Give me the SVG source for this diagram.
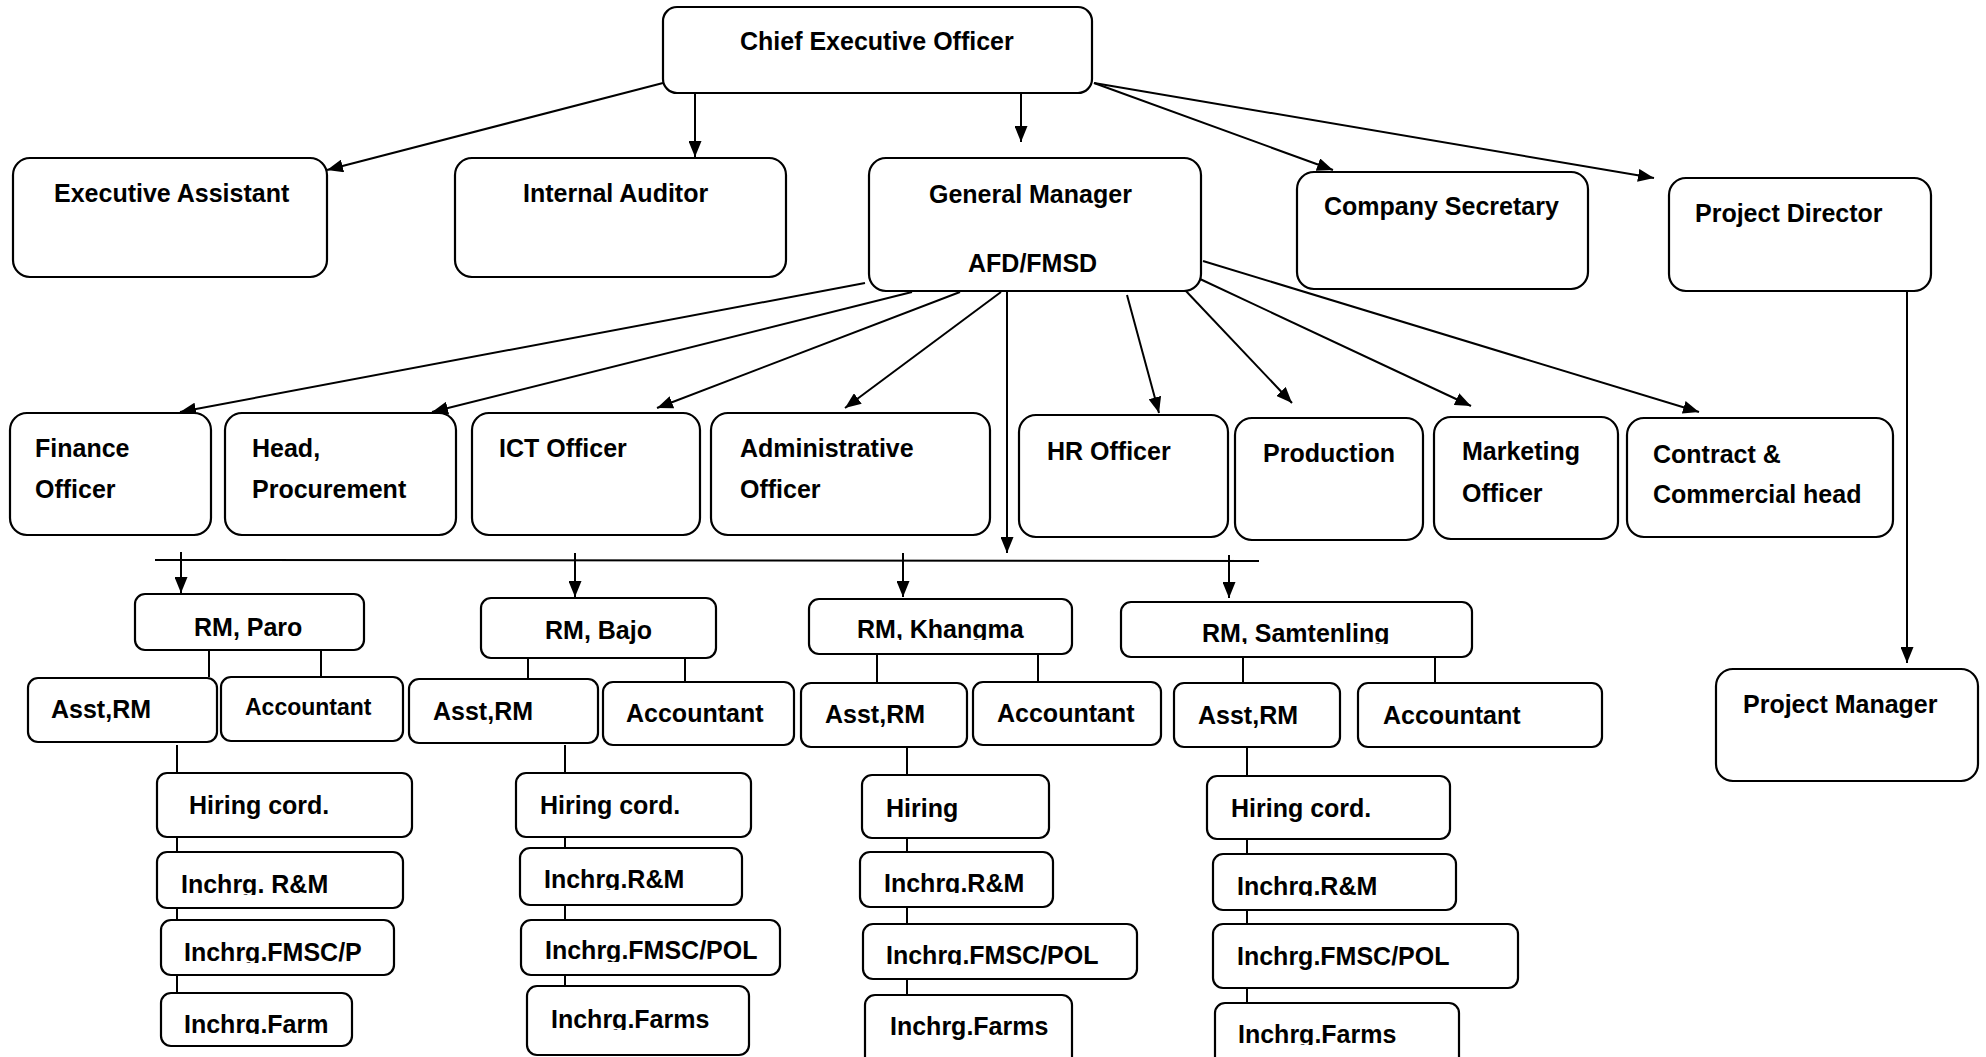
<svg xmlns="http://www.w3.org/2000/svg" width="1986" height="1057" viewBox="0 0 1986 1057">
<style>
.box{fill:#fff;stroke:#000;stroke-width:2.2}
.t{font-family:"Liberation Sans",Arial,sans-serif;font-weight:bold;font-size:25px;fill:#000}
.s{font-size:23px}
.ln{stroke:#000;stroke-width:2;fill:none}
.ar{stroke:#000;stroke-width:2;fill:none;marker-end:url(#ah)}
</style>
<defs>
<marker id="ah" markerUnits="userSpaceOnUse" markerWidth="16" markerHeight="13" refX="16" refY="6.5" orient="auto"><path d="M0,0 L16,6.5 L0,13 z" fill="#000"/></marker>
<clipPath id="c1"><rect x="0" y="0" width="1986" height="895"/></clipPath>
<clipPath id="c2"><rect x="0" y="0" width="1986" height="963"/></clipPath>
<clipPath id="c3"><rect x="0" y="0" width="1986" height="1034"/></clipPath>
<clipPath id="c4"><rect x="0" y="0" width="1986" height="890"/></clipPath>
<clipPath id="c5"><rect x="0" y="0" width="1986" height="962"/></clipPath>
<clipPath id="c6"><rect x="0" y="0" width="1986" height="1030"/></clipPath>
<clipPath id="c7"><rect x="0" y="0" width="1986" height="640"/></clipPath>
<clipPath id="c8"><rect x="0" y="0" width="1986" height="893"/></clipPath>
<clipPath id="c9"><rect x="0" y="0" width="1986" height="965"/></clipPath>
<clipPath id="c10"><rect x="0" y="0" width="1986" height="644"/></clipPath>
<clipPath id="c11"><rect x="0" y="0" width="1986" height="896"/></clipPath>
<clipPath id="c12"><rect x="0" y="0" width="1986" height="1045"/></clipPath>
</defs>
<rect width="1986" height="1057" fill="#fff"/>
<g id="connectors">
<line class="ar" x1="663" y1="83" x2="327" y2="170"/>
<line class="ar" x1="695" y1="93" x2="695" y2="157"/>
<line class="ar" x1="1021" y1="93" x2="1021" y2="142"/>
<line class="ar" x1="1094" y1="83" x2="1333" y2="170"/>
<line class="ar" x1="1094" y1="83" x2="1654" y2="178"/>
<line class="ar" x1="865" y1="283" x2="180" y2="412"/>
<line class="ar" x1="912" y1="292" x2="432" y2="412"/>
<line class="ar" x1="960" y1="292" x2="657" y2="408"/>
<line class="ar" x1="1001" y1="292" x2="845" y2="408"/>
<line class="ar" x1="1007" y1="292" x2="1007" y2="553"/>
<line class="ar" x1="1127" y1="295" x2="1159" y2="413"/>
<line class="ar" x1="1185" y1="290" x2="1292" y2="403"/>
<line class="ar" x1="1200" y1="279" x2="1471" y2="406"/>
<line class="ar" x1="1203" y1="261" x2="1699" y2="412"/>
<line class="ar" x1="1907" y1="291" x2="1907" y2="663"/>
<line class="ln" x1="155" y1="560" x2="1259" y2="561"/>
<line class="ar" x1="181" y1="552" x2="181" y2="593"/>
<line class="ar" x1="575" y1="553" x2="575" y2="597"/>
<line class="ar" x1="903" y1="553" x2="903" y2="597"/>
<line class="ar" x1="1229" y1="555" x2="1229" y2="598"/>
<path class="ln" d="M209,650V677M321,650V677M177,745V773M177,837V852M177,908V920M177,975V993"/>
<path class="ln" d="M528,658V679M685,658V682M565,745V773M565,837V848M565,905V920M565,975V986"/>
<path class="ln" d="M877,654V683M1038,654V682M907,747V775M907,838V852M907,907V924M907,979V995"/>
<path class="ln" d="M1243,657V683M1435,657V683M1247,747V776M1247,839V854M1247,910V924M1247,988V1003"/>
</g>
<g id="ceo"><rect class="box" x="663" y="7" width="429" height="86" rx="14"/><text class="t" x="740" y="50">Chief Executive Officer</text></g>
<g id="exec-assistant"><rect class="box" x="13" y="158" width="314" height="119" rx="17"/><text class="t" x="54" y="202">Executive Assistant</text></g>
<g id="internal-auditor"><rect class="box" x="455" y="158" width="331" height="119" rx="17"/><text class="t" x="523" y="202">Internal Auditor</text></g>
<g id="general-manager"><rect class="box" x="869" y="158" width="332" height="133" rx="17"/><text class="t" x="929" y="203">General Manager</text><text class="t" x="968" y="272">AFD/FMSD</text></g>
<g id="company-secretary"><rect class="box" x="1297" y="172" width="291" height="117" rx="17"/><text class="t" x="1324" y="215">Company Secretary</text></g>
<g id="project-director"><rect class="box" x="1669" y="178" width="262" height="113" rx="17"/><text class="t" x="1695" y="222">Project Director</text></g>
<g id="finance"><rect class="box" x="10" y="413" width="201" height="122" rx="17"/><text class="t" x="35" y="457">Finance</text><text class="t" x="35" y="498">Officer</text></g>
<g id="procurement"><rect class="box" x="225" y="413" width="231" height="122" rx="17"/><text class="t" x="252" y="457">Head,</text><text class="t" x="252" y="498">Procurement</text></g>
<g id="ict"><rect class="box" x="472" y="413" width="228" height="122" rx="17"/><text class="t" x="499" y="457">ICT Officer</text></g>
<g id="admin"><rect class="box" x="711" y="413" width="279" height="122" rx="17"/><text class="t" x="740" y="457">Administrative</text><text class="t" x="740" y="498">Officer</text></g>
<g id="hr"><rect class="box" x="1019" y="415" width="209" height="122" rx="17"/><text class="t" x="1047" y="460">HR Officer</text></g>
<g id="production"><rect class="box" x="1235" y="418" width="188" height="122" rx="17"/><text class="t" x="1263" y="462">Production</text></g>
<g id="marketing"><rect class="box" x="1434" y="417" width="184" height="122" rx="17"/><text class="t" x="1462" y="460">Marketing</text><text class="t" x="1462" y="502">Officer</text></g>
<g id="contract"><rect class="box" x="1627" y="418" width="266" height="119" rx="17"/><text class="t" x="1653" y="463">Contract &amp;</text><text class="t" x="1653" y="503">Commercial head</text></g>
<g id="project-manager"><rect class="box" x="1716" y="669" width="262" height="112" rx="17"/><text class="t" x="1743" y="713">Project Manager</text></g>
<g id="rm-paro"><rect class="box" x="135" y="594" width="229" height="56" rx="10"/><text class="t" x="194" y="636">RM, Paro</text></g>
<g id="asst-paro"><rect class="box" x="28" y="678" width="189" height="64" rx="10"/><text class="t" x="51" y="718">Asst,RM</text></g>
<g id="acc-paro"><rect class="box" x="221" y="677" width="182" height="64" rx="10"/><text class="t s" x="245" y="715">Accountant</text></g>
<g id="hiring-paro"><rect class="box" x="157" y="773" width="255" height="64" rx="10"/><text class="t" x="189" y="814">Hiring cord.</text></g>
<g id="rm-m-paro"><rect class="box" x="157" y="852" width="246" height="56" rx="10"/><text class="t" x="181" y="893" clip-path="url(#c1)">Inchrg. R&amp;M</text></g>
<g id="fmsc-paro"><rect class="box" x="161" y="920" width="233" height="55" rx="10"/><text class="t" x="184" y="961" clip-path="url(#c2)">Inchrg.FMSC/P</text></g>
<g id="farm-paro"><rect class="box" x="161" y="993" width="191" height="53" rx="10"/><text class="t" x="184" y="1033" clip-path="url(#c3)">Inchrg.Farm</text></g>
<g id="rm-bajo"><rect class="box" x="481" y="598" width="235" height="60" rx="10"/><text class="t" x="545" y="639">RM, Bajo</text></g>
<g id="asst-bajo"><rect class="box" x="409" y="679" width="189" height="64" rx="10"/><text class="t" x="433" y="720">Asst,RM</text></g>
<g id="acc-bajo"><rect class="box" x="603" y="682" width="191" height="63" rx="10"/><text class="t" x="626" y="722">Accountant</text></g>
<g id="hiring-bajo"><rect class="box" x="516" y="773" width="235" height="64" rx="10"/><text class="t" x="540" y="814">Hiring cord.</text></g>
<g id="rm-m-bajo"><rect class="box" x="520" y="848" width="222" height="57" rx="10"/><text class="t" x="544" y="888" clip-path="url(#c4)">Inchrg.R&amp;M</text></g>
<g id="fmsc-bajo"><rect class="box" x="521" y="920" width="259" height="55" rx="10"/><text class="t" x="545" y="959" clip-path="url(#c5)">Inchrg.FMSC/POL</text></g>
<g id="farm-bajo"><rect class="box" x="527" y="986" width="222" height="69" rx="10"/><text class="t" x="551" y="1028" clip-path="url(#c6)">Inchrg.Farms</text></g>
<g id="rm-khangma"><rect class="box" x="809" y="599" width="263" height="55" rx="10"/><text class="t" x="857" y="638" clip-path="url(#c7)">RM, Khangma</text></g>
<g id="asst-khangma"><rect class="box" x="801" y="683" width="166" height="64" rx="10"/><text class="t" x="825" y="723">Asst,RM</text></g>
<g id="acc-khangma"><rect class="box" x="973" y="682" width="188" height="63" rx="10"/><text class="t" x="997" y="722">Accountant</text></g>
<g id="hiring-khangma"><rect class="box" x="862" y="775" width="187" height="63" rx="10"/><text class="t" x="886" y="817">Hiring</text></g>
<g id="rm-m-khangma"><rect class="box" x="860" y="852" width="193" height="55" rx="10"/><text class="t" x="884" y="892" clip-path="url(#c8)">Inchrg.R&amp;M</text></g>
<g id="fmsc-khangma"><rect class="box" x="863" y="924" width="274" height="55" rx="10"/><text class="t" x="886" y="964" clip-path="url(#c9)">Inchrg.FMSC/POL</text></g>
<g id="farm-khangma"><rect class="box" x="865" y="995" width="207" height="72" rx="10"/><text class="t" x="890" y="1035">Inchrg.Farms</text></g>
<g id="rm-samtenling"><rect class="box" x="1121" y="602" width="351" height="55" rx="10"/><text class="t" x="1202" y="642" clip-path="url(#c10)">RM, Samtenling</text></g>
<g id="asst-samtenling"><rect class="box" x="1174" y="683" width="166" height="64" rx="10"/><text class="t" x="1198" y="724">Asst,RM</text></g>
<g id="acc-samtenling"><rect class="box" x="1358" y="683" width="244" height="64" rx="10"/><text class="t" x="1383" y="724">Accountant</text></g>
<g id="hiring-samtenling"><rect class="box" x="1207" y="776" width="243" height="63" rx="10"/><text class="t" x="1231" y="817">Hiring cord.</text></g>
<g id="rm-m-samtenling"><rect class="box" x="1213" y="854" width="243" height="56" rx="10"/><text class="t" x="1237" y="895" clip-path="url(#c11)">Inchrg.R&amp;M</text></g>
<g id="fmsc-samtenling"><rect class="box" x="1213" y="924" width="305" height="64" rx="10"/><text class="t" x="1237" y="965">Inchrg.FMSC/POL</text></g>
<g id="farm-samtenling"><rect class="box" x="1215" y="1003" width="244" height="67" rx="10"/><text class="t" x="1238" y="1043" clip-path="url(#c12)">Inchrg.Farms</text></g>
</svg>
